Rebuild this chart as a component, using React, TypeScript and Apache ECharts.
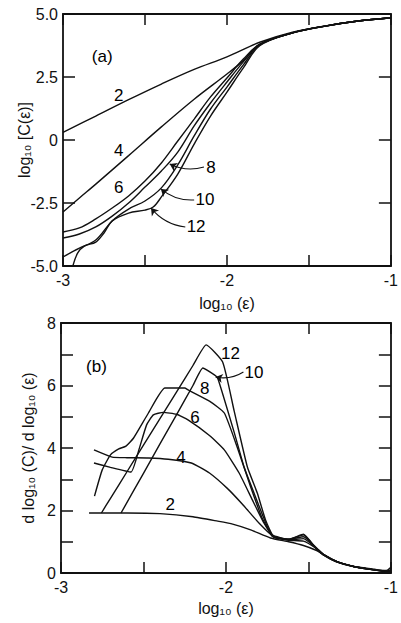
import React, { useEffect, useRef } from "react";
import * as echarts from "echarts";

const FONT = "'Liberation Sans', 'Noto Sans', 'DejaVu Sans', sans-serif";

// ---------- Panel (a): log10 C(eps) vs log10 eps ----------
const dimNames = ["2", "4", "6", "8", "10", "12"];
const tailA = [[-1.6, 4.25], [-1.4, 4.52], [-1.2, 4.72], [-1.0, 4.85]];
const a2 = [[-3, 0.3], [-2.8, 0.95], [-2.6, 1.6], [-2.4, 2.22], [-2.2, 2.8], [-2.0, 3.3], [-1.8, 3.88], [-1.6, 4.28], [-1.4, 4.53], [-1.2, 4.72], [-1.0, 4.85]];
const a4 = [[-3, -2.86], [-2.9, -2.3], [-2.8, -1.75], [-2.6, -0.62], [-2.4, 0.52], [-2.2, 1.62], [-2.0, 2.62], [-1.9, 3.15], [-1.8, 3.8]];
const a6 = [[-3, -3.65], [-2.9, -3.49], [-2.8, -3.13], [-2.7, -2.7], [-2.6, -2.22], [-2.5, -1.63], [-2.4, -0.91], [-2.3, -0.04], [-2.2, 0.83], [-2.1, 1.71], [-2.0, 2.46], [-1.9, 3.21], [-1.8, 3.8]];
const a8 = [[-3, -3.89], [-2.9, -3.73], [-2.8, -3.45], [-2.7, -3.02], [-2.6, -2.5], [-2.5, -1.87], [-2.4, -1.23], [-2.3, -0.48], [-2.2, 0.56], [-2.1, 1.47], [-2.0, 2.3], [-1.9, 3.1], [-1.8, 3.79]];
const a10 = [[-3, -4.64], [-2.9, -4.29], [-2.8, -3.97], [-2.7, -3.21], [-2.6, -2.74], [-2.5, -2.42], [-2.4, -1.9], [-2.3, -0.99], [-2.2, 0.16], [-2.1, 1.23], [-2.0, 2.1], [-1.9, 2.98], [-1.8, 3.77]];
const a12 = [[-2.94, -5.0], [-2.91, -4.48], [-2.87, -4.21], [-2.8, -4.05], [-2.75, -3.69], [-2.7, -3.21], [-2.6, -2.9], [-2.5, -2.78], [-2.45, -2.66], [-2.4, -2.26], [-2.3, -1.35], [-2.2, -0.16], [-2.1, 0.95], [-2.0, 1.9], [-1.9, 2.86], [-1.8, 3.74]];
const curvesA = [a2, a4.concat(tailA), a6.concat(tailA), a8.concat(tailA), a10.concat(tailA), a12.concat(tailA)];

const labelsA = [
  { text: "(a)", x: -2.761, y: 3.33 },
  { text: "2", x: -2.66, y: 1.75 },
  { text: "4", x: -2.66, y: -0.4 },
  { text: "6", x: -2.66, y: -1.9 },
  { text: "8", x: -2.098, y: -1.11 },
  { text: "10", x: -2.134, y: -2.38 },
  { text: "12", x: -2.188, y: -3.45 },
];
const arrowsA = [
  [-2.14, -1.07, -2.349, -0.95],
  [-2.2, -2.38, -2.403, -1.94],
  [-2.254, -3.45, -2.463, -2.7],
];

// ---------- Panel (b): d log10 C / d log10 eps ----------
const b2 = [[-2.83, 1.92], [-2.6, 1.92], [-2.4, 1.9], [-2.2, 1.8], [-2.05, 1.66], [-1.97, 1.58], [-1.85, 1.38], [-1.73, 1.12], [-1.62, 1.0], [-1.53, 0.88], [-1.45, 0.72], [-1.41, 0.6], [-1.33, 0.37], [-1.22, 0.2], [-1.1, 0.1], [-1.0, 0.0]];
const b4 = [[-2.8, 3.94], [-2.69, 3.71], [-2.6, 3.69], [-2.47, 3.68], [-2.35, 3.64], [-2.21, 3.52], [-2.1, 3.2], [-1.99, 2.7], [-1.9, 2.2], [-1.8, 1.6], [-1.71, 1.16], [-1.62, 1.05], [-1.53, 1.02], [-1.45, 0.78], [-1.41, 0.6], [-1.33, 0.37], [-1.22, 0.2], [-1.1, 0.1], [-1.0, 0.05]];
const b6 = [[-2.8, 3.52], [-2.7, 3.38], [-2.576, 3.23], [-2.528, 3.94], [-2.481, 4.74], [-2.44, 5.06], [-2.38, 5.14], [-2.3, 5.08], [-2.23, 4.9], [-2.1, 4.4], [-2.01, 3.94], [-1.92, 3.2], [-1.84, 2.34], [-1.77, 1.6], [-1.71, 1.15], [-1.62, 1.06], [-1.53, 1.1], [-1.45, 0.78], [-1.41, 0.6], [-1.33, 0.37], [-1.22, 0.2], [-1.1, 0.1], [-1.0, 0.08]];
const b8 = [[-2.797, 2.46], [-2.75, 3.3], [-2.7, 3.78], [-2.65, 3.97], [-2.606, 4.06], [-2.56, 4.32], [-2.47, 5.12], [-2.37, 5.92], [-2.25, 5.92], [-2.23, 5.86], [-2.1, 5.5], [-2.01, 5.12], [-1.93, 4.0], [-1.85, 2.75], [-1.78, 1.75], [-1.72, 1.22], [-1.62, 1.08], [-1.53, 1.16], [-1.45, 0.8], [-1.41, 0.6], [-1.33, 0.37], [-1.22, 0.2], [-1.1, 0.1], [-1.0, 0.04]];
const b10 = [[-2.636, 1.92], [-2.5, 3.19], [-2.4, 4.13], [-2.3, 5.06], [-2.2, 6.0], [-2.14, 6.56], [-2.07, 6.34], [-2.05, 6.24], [-1.95, 4.5], [-1.89, 3.39], [-1.83, 2.56], [-1.77, 1.75], [-1.72, 1.18], [-1.62, 1.08], [-1.53, 1.22], [-1.45, 0.76], [-1.41, 0.58], [-1.33, 0.36], [-1.22, 0.2], [-1.1, 0.1], [-1.0, 0.0]];
const b12 = [[-2.755, 1.92], [-2.7, 2.39], [-2.6, 3.24], [-2.5, 4.09], [-2.4, 4.94], [-2.3, 5.79], [-2.2, 6.64], [-2.12, 7.3], [-2.02, 6.75], [-1.95, 5.18], [-1.87, 3.39], [-1.81, 2.56], [-1.76, 1.7], [-1.71, 1.16], [-1.62, 1.08], [-1.53, 1.24], [-1.45, 0.76], [-1.41, 0.58], [-1.33, 0.36], [-1.22, 0.2], [-1.1, 0.12], [-1.03, 0.06], [-1.0, 0.18]];
const curvesB = [b2, b4, b6, b8, b10, b12];

const labelsB = [
  { text: "(b)", x: -2.785, y: 6.62 },
  { text: "2", x: -2.337, y: 2.18 },
  { text: "4", x: -2.272, y: 3.71 },
  { text: "6", x: -2.188, y: 4.99 },
  { text: "8", x: -2.128, y: 5.92 },
  { text: "10", x: -1.83, y: 6.43 },
  { text: "12", x: -1.973, y: 7.04 },
];
const arrowsB = [[-1.894, 6.43, -2.063, 6.27]];

const INK = "#111111";

function xAxisDef(grid: number, pos: string, withName: boolean, nameGap: number) {
  return {
    type: "value",
    gridIndex: grid,
    position: pos,
    min: -3,
    max: -1,
    interval: 0.5,
    axisLine: { show: true, onZero: false, lineStyle: { color: INK, width: 1.8 } },
    axisTick: { show: true, inside: true, length: 11, lineStyle: { color: INK, width: 1.5 } },
    axisLabel: {
      show: withName,
      margin: 6,
      color: INK,
      fontSize: 16,
      fontFamily: FONT,
      showMinLabel: true,
      showMaxLabel: true,
      formatter: (v: number) => (Number.isInteger(v) ? String(v) : ""),
    },
    splitLine: { show: false },
    name: withName ? "log₁₀ (ε)" : "",
    nameLocation: "middle",
    nameGap,
    nameMoveOverlap: false,
    nameTextStyle: { color: INK, fontSize: 16, fontFamily: FONT },
  };
}

function yAxisDef(grid: number, pos: string, min: number, max: number, interval: number, withLabels: boolean, fmt: (v: number) => string, name: string, nameGap: number) {
  return {
    type: "value",
    gridIndex: grid,
    position: pos,
    min,
    max,
    interval,
    axisLine: { show: true, onZero: false, lineStyle: { color: INK, width: 1.8 } },
    axisTick: { show: true, inside: true, length: 12, lineStyle: { color: INK, width: 1.5 } },
    axisLabel: {
      show: withLabels,
      margin: 5,
      color: INK,
      fontSize: 16,
      fontFamily: FONT,
      showMinLabel: true,
      showMaxLabel: true,
      formatter: fmt,
    },
    splitLine: { show: false },
    name,
    nameLocation: "middle",
    nameRotate: 90,
    nameGap,
    nameMoveOverlap: false,
    nameTextStyle: { color: INK, fontSize: 16, fontFamily: FONT },
  };
}

export default function App() {
  const ref = useRef<HTMLDivElement>(null);
  useEffect(() => {
    if (!ref.current) return;
    const chart = echarts.init(ref.current, null, { renderer: "svg" });
    const series: any[] = [];
    curvesA.forEach((c, i) => {
      series.push({
        type: "line", name: "a" + dimNames[i], xAxisIndex: 0, yAxisIndex: 0, data: c,
        showSymbol: false, smooth: 0.35, silent: true,
        lineStyle: { color: INK, width: 1.4 },
      });
    });
    curvesB.forEach((c, i) => {
      series.push({
        type: "line", name: "b" + dimNames[i], xAxisIndex: 2, yAxisIndex: 2, data: c,
        showSymbol: false, smooth: 0.15, silent: true,
        lineStyle: { color: INK, width: 1.4 },
      });
    });
    const labelSeries = (xi: number, yi: number, labels: any[]) => ({
      type: "scatter", xAxisIndex: xi, yAxisIndex: yi, symbolSize: 0.01, silent: true,
      itemStyle: { color: "#000000", opacity: 1 },
      data: labels.map((l) => ({ name: l.text, value: [l.x, l.y] })),
      label: {
        show: true, position: "inside", formatter: "{b}", color: "#000000", opacity: 1,
        textBorderWidth: 0, fontSize: 17, fontFamily: FONT,
      },
    });
    series.push(labelSeries(0, 0, labelsA));
    series.push(labelSeries(2, 2, labelsB));
    const arrowSeries = (xi: number, yi: number, arr: number[][]) => ({
      type: "lines", coordinateSystem: "cartesian2d", xAxisIndex: xi, yAxisIndex: yi, silent: true,
      symbol: ["none", "arrow"], symbolSize: 7,
      lineStyle: { color: INK, width: 1.1, curveness: 0.2, opacity: 1 },
      data: arr.map((a) => ({ coords: [[a[0], a[1]], [a[2], a[3]]] })),
    });
    series.push(arrowSeries(0, 0, arrowsA));
    series.push(arrowSeries(2, 2, arrowsB));

    chart.setOption({
      animation: false,
      backgroundColor: "#ffffff",
      grid: [
        { left: 63, top: 14, width: 335, height: 252 },
        { left: 61, top: 323, width: 335, height: 250 },
      ],
      xAxis: [
        xAxisDef(0, "bottom", true, 29),
        xAxisDef(0, "top", false, 0),
        xAxisDef(1, "bottom", true, 27),
        xAxisDef(1, "top", false, 0),
      ],
      yAxis: [
        yAxisDef(0, "left", -5, 5, 2.5, true, (v) => (v === 0 ? "0" : v.toFixed(1)), "log₁₀ [C(ε)]", 31),
        yAxisDef(0, "right", -5, 5, 2.5, false, (v) => "", "", 0),
        yAxisDef(1, "left", 0, 8, 1, true, (v) => (v % 2 === 0 ? String(v) : ""), "d log₁₀ (C)/ d log₁₀ (ε)", 25),
        yAxisDef(1, "right", 0, 8, 1, false, (v) => "", "", 0),
      ],
      series,
    });
    return () => chart.dispose();
  }, []);
  return (
    <div
      ref={ref}
      style={{ position: "absolute", left: 0, top: 0, width: 401, height: 623, background: "#fff" }}
    />
  );
}
